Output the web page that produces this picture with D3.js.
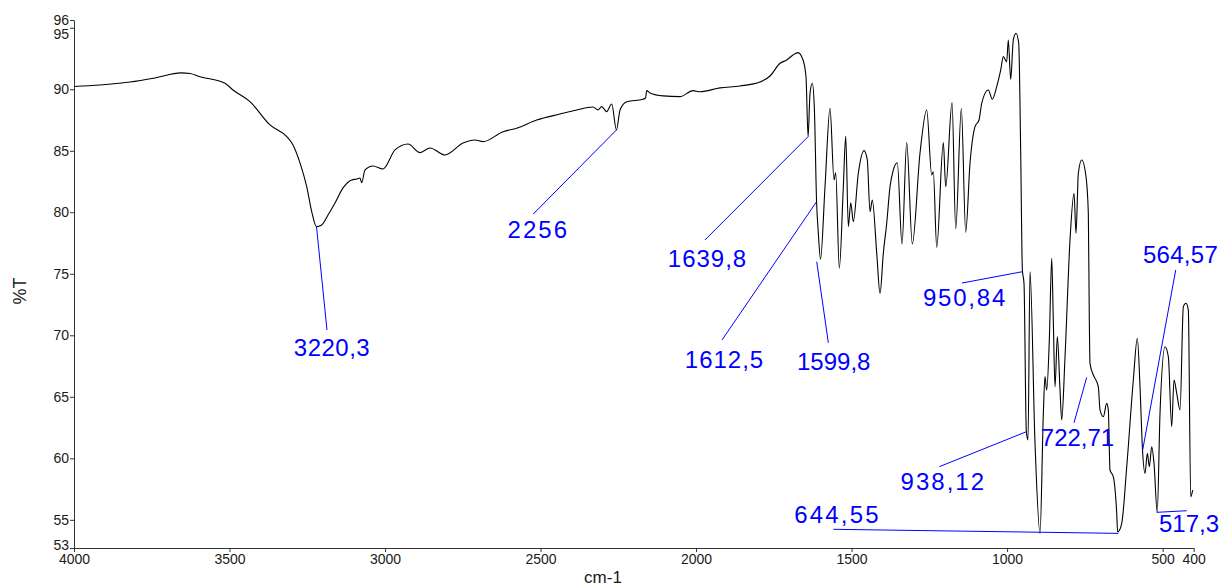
<!DOCTYPE html>
<html>
<head>
<meta charset="utf-8">
<script src="https://cdn.jsdelivr.net/npm/d3@7/dist/d3.min.js"></script>
<style>
  html, body { margin: 0; padding: 0; background: #fff; }
  svg { display: block; font-family: "Liberation Sans", Arial, sans-serif; }
</style>
</head>
<body>
<script>
// ---------- data ----------
const wavenumber = [
  4000, 3916.4, 3820, 3739.6, 3656, 3627, 3594.9, 3514.5, 3488.8, 3434.1,
  3369.8, 3316.1, 3295.9, 3273.4, 3251.8, 3235.7, 3220.3, 3203.6, 3183.3, 3160.8,
  3135.1, 3107.1, 3090.1, 3080.5, 3075, 3064.4, 3038.7, 3006.5, 2967.9, 2926.1,
  2887.5, 2855.4, 2807.2, 2749.3, 2710.7, 2685, 2620.7, 2576.7, 2512.3, 2437.4,
  2383.7, 2331.3, 2315.2, 2303.3, 2287.3, 2271.2, 2256, 2244.5, 2222.9, 2170.6,
  2162.5, 2158.6, 2148, 2106.2, 2051.6, 2009.8, 1987.3, 1922.9, 1858.7, 1794.4,
  1762.2, 1730.1, 1708.5, 1688.3, 1672.2, 1656.1, 1646.5, 1639.8, 1633.6, 1626.2,
  1619.8, 1612.5, 1606.9, 1599.8, 1585.4, 1569.3, 1556.4, 1551, 1539.4, 1526.5,
  1518.8, 1510.4, 1502.7, 1494.4, 1478.3, 1460, 1449.4, 1440.7, 1433.3, 1419.1,
  1408.5, 1397.9, 1387, 1376.4, 1365.8, 1352.9, 1337.8, 1322.7, 1304.7, 1280,
  1258.4, 1242.3, 1237.2, 1226.2, 1205, 1197.3, 1177, 1165.1, 1147.1, 1133,
  1119.2, 1103.1, 1090.2, 1081.6, 1060.4, 1047.5, 1033.3, 1020.4, 1012.1, 1001.2,
  996.1, 988.4, 980, 971.3, 962.6, 956.2, 950.84, 945.6, 938.12, 932.7,
  926.3, 910.2, 894.1, 883.4, 878.1, 872.6, 864.2, 856.5, 851.4, 845.9,
  838.4, 829.8, 824.4, 813.7, 797.7, 784.8, 778.4, 770.9, 760, 746.2,
  738.8, 735.6, 733.4, 722.71, 717.3, 706.7, 701.2, 690.6, 679.7, 674.5,
  669.1, 658.4, 647.5, 644.55, 631.4, 615.3, 594.1, 581.3, 572.6, 564.57,
  556.5, 549.1, 542.7, 535, 527.6, 517.3, 508.3, 492.2, 481.6, 470.7,
  463.3, 454.6, 443.9, 433.3, 424.7, 417.3, 409.6, 403.2
];
const transmittance = [
  90.23, 90.35, 90.59, 90.92, 91.33, 91.28, 91.02, 90.49, 89.94, 88.99,
  87.10, 86.15, 85.47, 84.01, 82.08, 80.05, 78.83, 78.97, 79.78, 80.76,
  81.98, 82.63, 82.71, 82.79, 82.41, 83.44, 83.76, 83.52, 85.07, 85.55,
  84.85, 85.23, 84.66, 85.63, 85.88, 85.74, 86.55, 86.83, 87.50, 87.99,
  88.32, 88.56, 88.32, 88.59, 88.18, 88.80, 86.69, 88.32, 88.99, 89.19,
  89.29, 89.89, 89.70, 89.46, 89.40, 89.89, 89.80, 90.11, 90.27, 90.59,
  91.08, 92.11, 92.38, 92.79, 92.98, 92.38, 91.02, 86.15, 89.67, 90.49,
  88.59, 80.86, 78.32, 76.18, 82.08, 88.46, 82.63, 83.20, 75.45, 82.08,
  86.20, 78.83, 80.78, 79.24, 83.17, 85.01, 84.25, 80.05, 81.00, 76.67,
  73.41, 76.67, 79.11, 82.08, 83.44, 84.03, 77.42, 85.66, 77.42, 84.80,
  88.32, 83.03, 83.30, 77.15, 85.66, 82.08, 88.91, 78.64, 88.46, 78.37,
  83.98, 86.96, 87.50, 88.86, 89.94, 89.19, 90.21, 91.57, 92.65, 92.24,
  94.01, 90.81, 94.01, 94.55, 93.74, 84.80, 75.31, 74.23, 62.16, 61.49,
  75.17, 61.22, 53.90, 63.66, 66.64, 65.55, 69.62, 76.26, 71.24, 65.82,
  69.89, 65.55, 63.11, 68.26, 77.75, 81.54, 78.29, 83.17, 84.25, 82.89,
  79.92, 71.24, 67.72, 66.77, 66.50, 65.82, 63.93, 63.38, 64.47, 63.93,
  59.05, 58.50, 55.53, 54.01, 54.72, 59.32, 66.37, 69.76, 65.82, 60.67,
  58.78, 60.41, 59.32, 60.94, 59.59, 55.61, 63.66, 69.07, 68.26, 62.57,
  66.37, 65.28, 63.93, 72.33, 72.60, 72.06, 56.88, 57.42
];

const xTicks = [4000, 3500, 3000, 2500, 2000, 1500, 1000, 500, 400];
const yTicks = [55, 60, 65, 70, 75, 80, 85, 90, 95];
const xDomain = [4000, 400];
const yDomain = [52.71, 95.63];   // axis ends, labelled 53 and 96
const xTitle = "cm-1";
const yTitle = "%T";

// peak annotations: label, line start (on peak), line end, text centre  [wavenumber, %T]
const annLabels = ["3220,3", "2256", "1639,8", "1612,5", "1599,8", "950,84", "938,12", "644,55", "722,71", "564,57", "517,3"];
const annFrom = [[3220.3, 78.83], [2256, 86.69], [1639.8, 86.15], [1612.5, 80.86], [1612.1, 75.98], [950.8, 75.17], [938.1, 62.16], [642.4, 53.90], [744, 66.58], [564.1, 60.67], [518.9, 55.61]];
const annTo = [[3186.6, 70.43], [2523.3, 79.86], [1971.2, 77.75], [1916.5, 69.62], [1574.7, 69.39], [1144.9, 74.25], [1217.9, 59.32], [1558.7, 54.23], [784.8, 62.89], [457.8, 75.31], [422.4, 55.74]];
const annText = [[3170.5, 69.05], [2507.2, 78.59], [1963.2, 76.28], [1908.5, 68.07], [1557.4, 67.85], [1135.3, 73.11], [1205, 58.15], [1545.2, 55.43], [773.5, 61.69], [442.3, 76.57], [415.1, 54.72]];
const annSpacing = [0.5, 2, 1, 1, 0, 1.8, 2, 2.2, 0, 0.3, 0];

// ---------- drawing ----------
const W = 1223, H = 587;
const svg = d3.select("body").append("svg").attr("width", W).attr("height", H);

const x = d3.scaleLinear().domain(xDomain).range([74, 1193.7]);
const y = d3.scaleLinear().domain(yDomain).range([548, 20]);

const axisColor = "#333";
const labelColor = "#1a1a1a";

// x axis
const gx = svg.append("g").attr("transform", `translate(0,${y(yDomain[0])})`)
  .call(d3.axisBottom(x).tickValues(xTicks).tickFormat(d3.format("d"))
    .tickSize(4).tickPadding(2).tickSizeOuter(0));
// y axis
const yTickAll = [yDomain[0], ...yTicks, yDomain[1]];
const gy = svg.append("g").attr("transform", `translate(${x(xDomain[0])},0)`)
  .call(d3.axisLeft(y).tickValues(yTickAll).tickFormat(d => String(Math.round(d)))
    .tickSize(4).tickPadding(1).tickSizeOuter(0));

[gx, gy].forEach(g => {
  g.selectAll("path, line").attr("stroke", axisColor).attr("stroke-width", 1);
  g.selectAll("text").attr("fill", labelColor)
    .style("font-family", '"Liberation Sans", Arial, sans-serif').style("font-size", "14px");
});
// 95 label is pushed down below the 96 end label; 53 label nudged up off the 4000 label
gy.selectAll(".tick text").filter(d => d === 95).attr("y", 6);
gy.selectAll(".tick text").filter(d => d === yDomain[0]).attr("y", -3);

// axis titles
svg.append("text").attr("x", 603).attr("y", 577).attr("dy", "0.35em")
  .attr("text-anchor", "middle").attr("fill", labelColor)
  .style("font-size", "17px").text(xTitle);
svg.append("text").attr("transform", "translate(20,291) rotate(-90)").attr("dy", "0.35em")
  .attr("text-anchor", "middle").attr("fill", labelColor)
  .style("font-size", "18px").text(yTitle);

// spectrum
const pts = wavenumber.map((w, i) => [w, transmittance[i]]);
svg.append("path").datum(pts)
  .attr("fill", "none").attr("stroke", "#000").attr("stroke-width", 1.1)
  .attr("stroke-linejoin", "round")
  .attr("d", d3.line().x(d => x(d[0])).y(d => y(d[1])).curve(d3.curveMonotoneX));

// annotations
const blue = "#0000ff";
const ga = svg.append("g");
annLabels.forEach((lab, i) => {
  ga.append("line")
    .attr("x1", x(annFrom[i][0])).attr("y1", y(annFrom[i][1]))
    .attr("x2", x(annTo[i][0])).attr("y2", y(annTo[i][1]))
    .attr("stroke", blue).attr("stroke-width", 1);
  ga.append("text")
    .attr("x", x(annText[i][0])).attr("y", y(annText[i][1]))
    .attr("dy", "0.36em").attr("text-anchor", "middle")
    .attr("fill", blue).style("font-size", "24px")
    .style("letter-spacing", annSpacing[i] + "px")
    .text(lab);
});
</script>
</body>
</html>
